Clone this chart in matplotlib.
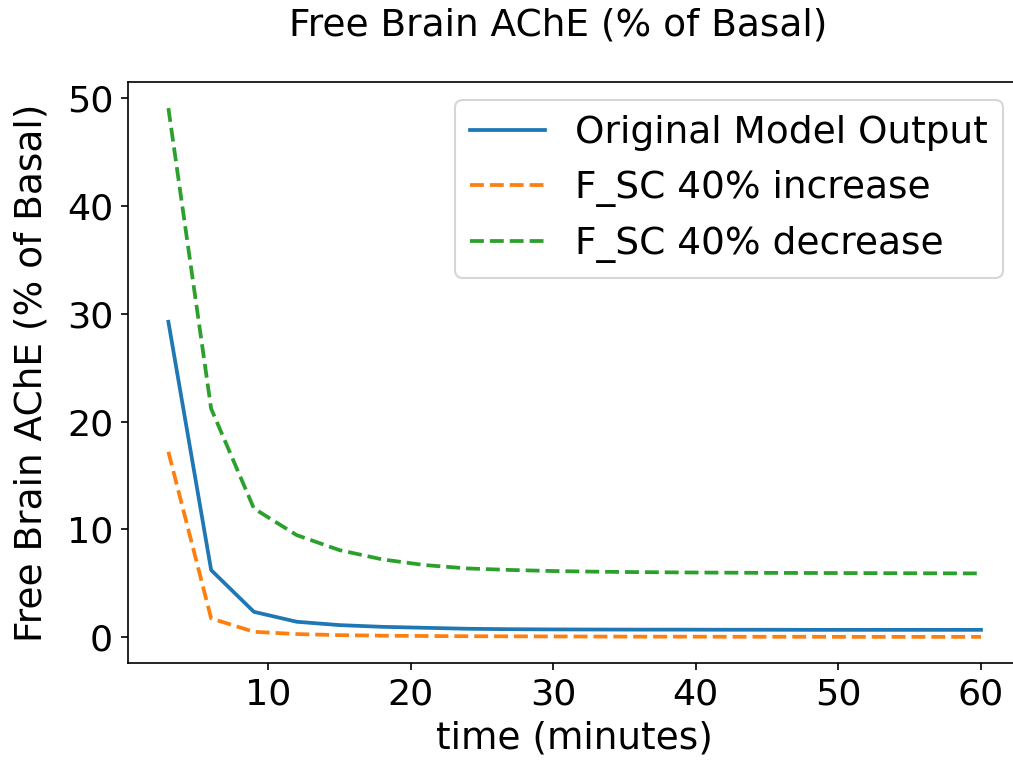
import numpy as np
import matplotlib
matplotlib.use('Agg')
import matplotlib.pyplot as plt

plt.rcParams['font.size'] = 18
plt.rcParams['xtick.labelsize'] = 17.5
plt.rcParams['ytick.labelsize'] = 17.5

time_min = np.arange(3, 61, 3)

original = [29.25, 6.24, 2.37, 1.45, 1.14, 0.98, 0.89, 0.80, 0.76, 0.74,
            0.73, 0.72, 0.72, 0.71, 0.71, 0.70, 0.70, 0.70, 0.70, 0.70]
fsc_increase = [17.2, 1.76, 0.52, 0.31, 0.21, 0.16, 0.13, 0.11, 0.10, 0.09,
                0.08, 0.07, 0.07, 0.06, 0.06, 0.06, 0.05, 0.05, 0.05, 0.05]
fsc_decrease = [49.05, 21.2, 11.95, 9.48, 8.09, 7.23, 6.70, 6.39, 6.25, 6.15,
                6.09, 6.05, 6.02, 6.00, 5.98, 5.97, 5.96, 5.95, 5.94, 5.93]

fig = plt.figure(figsize=(1013 / 150, 772 / 150), dpi=150)
# axes run slightly past the right edge of the canvas
ax = fig.add_axes([0.1261, 0.1408, 0.8824, 0.7534])
ax.spines['right'].set_visible(False)

ax.plot(time_min, original, lw=1.8, label='Original Model Output')
ax.plot(time_min, fsc_increase, '--', lw=1.8, label='F_SC 40% increase')
ax.plot(time_min, fsc_decrease, '--', lw=1.8, label='F_SC 40% decrease')

ax.set_xlabel('time (minutes)')
ax.set_ylabel('Free Brain AChE (% of Basal)', labelpad=8)
ax.legend(loc='upper right')
fig.suptitle('Free Brain AChE (% of Basal)', x=0.551, y=0.967, va='center',
             fontsize=18)

plt.savefig('out.png', dpi=150)
